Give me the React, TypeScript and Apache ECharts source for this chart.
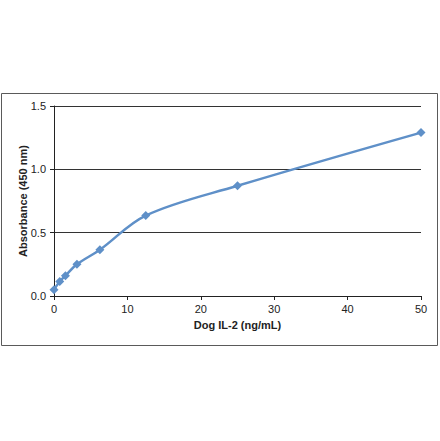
import React, { useEffect, useRef } from "react";
import * as echarts from "echarts";

const concentrations = [0, 0.78, 1.56, 3.125, 6.25, 12.5, 25, 50];
const absorbance = [0.05, 0.115, 0.16, 0.25, 0.365, 0.635, 0.87, 1.29];
const xTicks = [0, 10, 20, 30, 40, 50];
const yTicks = [0, 0.5, 1.0, 1.5];

const font = "'Liberation Sans', Arial, sans-serif";

const App: React.FC = () => {
  const chartRef = useRef<HTMLDivElement>(null);

  useEffect(() => {
    document.body.style.margin = "0";
    if (!chartRef.current) return;
    const chart = echarts.init(chartRef.current, undefined, { renderer: "svg" });

    const option = {
      animation: false,
      backgroundColor: "#ffffff",
      textStyle: { fontFamily: font },
      graphic: [
        {
          type: "rect",
          shape: { x: 1.5, y: 93.5, width: 436, height: 252 },
          style: { fill: "none", stroke: "#5a5a5a", lineWidth: 1 },
          silent: true,
        },
      ],
      grid: { left: 54, right: 19, top: 106, bottom: 145 },
      xAxis: {
        type: "value",
        min: xTicks[0],
        max: xTicks[xTicks.length - 1],
        interval: 10,
        name: "Dog IL-2 (ng/mL)",
        nameLocation: "middle",
        nameGap: 23,
        nameMoveOverlap: false,
        nameTextStyle: { fontFamily: font, fontSize: 11, fontWeight: "bold", color: "#222" },
        axisLine: { show: true, lineStyle: { color: "#222", width: 1 } },
        axisTick: { show: true, length: 4, lineStyle: { color: "#222" } },
        axisLabel: { fontFamily: font, fontSize: 11, color: "#222", margin: 7 },
        splitLine: { show: false },
      },
      yAxis: {
        type: "value",
        min: yTicks[0],
        max: yTicks[yTicks.length - 1],
        interval: 0.5,
        name: "Absorbance (450 nm)",
        nameLocation: "middle",
        nameGap: 26,
        nameMoveOverlap: false,
        nameTextStyle: { fontFamily: font, fontSize: 11, fontWeight: "bold", color: "#222" },
        axisLine: { show: true, lineStyle: { color: "#222", width: 1 } },
        axisTick: { show: true, length: 4, lineStyle: { color: "#222" } },
        axisLabel: {
          fontFamily: font,
          fontSize: 11,
          color: "#222",
          margin: 8,
          formatter: (v: number) => v.toFixed(1),
        },
        splitLine: { show: true, lineStyle: { color: "#333", width: 1 } },
      },
      series: [
        {
          type: "line",
          data: concentrations.map((c, i) => [c, absorbance[i]]),
          smooth: 0.35,
          symbol: "diamond",
          symbolSize: 9,
          lineStyle: { color: "#5f90c8", width: 2.5 },
          itemStyle: { color: "#5f90c8" },
        },
      ],
    };

    chart.setOption(option);
    const handleResize = () => chart.resize();
    window.addEventListener("resize", handleResize);
    return () => {
      window.removeEventListener("resize", handleResize);
      chart.dispose();
    };
  }, []);

  return <div ref={chartRef} style={{ width: "440px", height: "441px" }} />;
};

export default App;
